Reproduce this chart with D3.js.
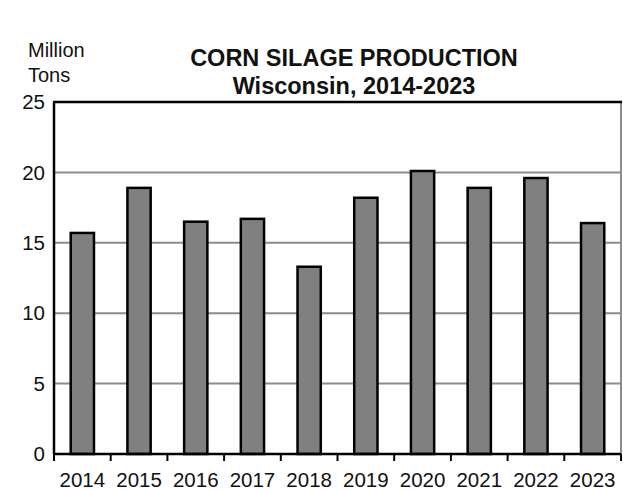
<!DOCTYPE html>
<html>
<head>
<meta charset="utf-8">
<script src="https://cdn.jsdelivr.net/npm/d3@7"></script>
<style>
	body { margin: 0; background: #fff; }
	svg text { font-family: "Liberation Sans", Arial, sans-serif; }
</style>
</head>
<body>
<svg class="chart" width="623" height="491"></svg>
<script>
var years = ['2014', '2015', '2016', '2017', '2018', '2019', '2020', '2021', '2022', '2023'];
var production = [15.7, 18.9, 16.5, 16.7, 13.3, 18.2, 20.1, 18.9, 19.6, 16.4];
var yTicks = [0, 5, 10, 15, 20, 25];

var margin = {top: 102, right: 2, bottom: 37, left: 54},
	width = 623 - margin.left - margin.right,
	height = 491 - margin.top - margin.bottom;

var svg = d3.select('svg.chart');

var chart = svg.append('g')
	.attr('transform', 'translate(' + margin.left + ',' + margin.top + ')');

var x = d3.scaleBand()
	.domain(years)
	.range([0, width])
	.paddingInner(0.59)
	.paddingOuter(0.295);

var y = d3.scaleLinear()
	.domain([0, 25])
	.range([height, 0]);

// gridlines
chart.selectAll('.grid')
	.data(yTicks.filter(d => d > 0 && d < 25))
	.enter()
	.append('line')
		.attr('class', 'grid')
		.attr('x1', 0)
		.attr('x2', width)
		.attr('y1', d => y(d))
		.attr('y2', d => y(d))
		.attr('stroke', '#8c8c8c')
		.attr('stroke-width', 2);

// right edge of plot area
chart.append('line')
	.attr('x1', width).attr('x2', width)
	.attr('y1', 0).attr('y2', height)
	.attr('stroke', '#8c8c8c')
	.attr('stroke-width', 2);

// top edge
chart.append('line')
	.attr('x1', -1).attr('x2', width + 1)
	.attr('y1', 0).attr('y2', 0)
	.attr('stroke', '#000')
	.attr('stroke-width', 2.5);

chart.selectAll('.bar')
	.data(years.map((yr, i) => ({year: yr, value: production[i]})))
	.enter()
	.append('rect')
		.attr('class', 'bar')
		.attr('x', d => x(d.year))
		.attr('y', d => y(d.value))
		.attr('width', x.bandwidth())
		.attr('height', d => height - y(d.value))
		.attr('fill', '#808080')
		.attr('stroke', '#000')
		.attr('stroke-width', 2.5);

// x axis
var xEdge = d3.scaleLinear().domain([0, years.length]).range([0, width]);
var xAxis = chart.append('g')
	.attr('transform', 'translate(0,' + height + ')');
xAxis.append('line')
	.attr('x1', -1).attr('x2', width)
	.attr('stroke', '#000')
	.attr('stroke-width', 2.5);
xAxis.selectAll('.tick')
	.data(d3.range(years.length + 1))
	.enter()
	.append('line')
		.attr('x1', d => xEdge(d))
		.attr('x2', d => xEdge(d))
		.attr('y1', 0)
		.attr('y2', 7)
		.attr('stroke', '#000')
		.attr('stroke-width', 2);
xAxis.selectAll('.label')
	.data(years)
	.enter()
	.append('text')
		.attr('x', d => x(d) + x.bandwidth() / 2)
		.attr('y', 33)
		.attr('text-anchor', 'middle')
		.attr('font-size', 20.5)
		.attr('fill', '#111')
		.text(d => d);

// y axis
chart.append('line')
	.attr('x1', 0).attr('x2', 0)
	.attr('y1', 0).attr('y2', height)
	.attr('stroke', '#000')
	.attr('stroke-width', 2.5);
chart.selectAll('.ylabel')
	.data(yTicks)
	.enter()
	.append('text')
		.attr('x', -9)
		.attr('y', d => y(d))
		.attr('dy', '0.35em')
		.attr('text-anchor', 'end')
		.attr('font-size', 20.5)
		.attr('fill', '#111')
		.text(d => d);

// titles
svg.append('text')
	.attr('x', 354)
	.attr('y', 66)
	.attr('text-anchor', 'middle')
	.attr('font-size', 23.5)
	.attr('font-weight', 'bold')
	.attr('fill', '#111')
	.text('CORN SILAGE PRODUCTION');
svg.append('text')
	.attr('x', 354)
	.attr('y', 94)
	.attr('text-anchor', 'middle')
	.attr('font-size', 23.5)
	.attr('font-weight', 'bold')
	.attr('fill', '#111')
	.text('Wisconsin, 2014-2023');
svg.append('text')
	.attr('x', 28)
	.attr('y', 57)
	.attr('font-size', 20)
	.attr('fill', '#111')
	.text('Million');
svg.append('text')
	.attr('x', 28)
	.attr('y', 82)
	.attr('font-size', 20)
	.attr('fill', '#111')
	.text('Tons');
</script>
</body>
</html>
